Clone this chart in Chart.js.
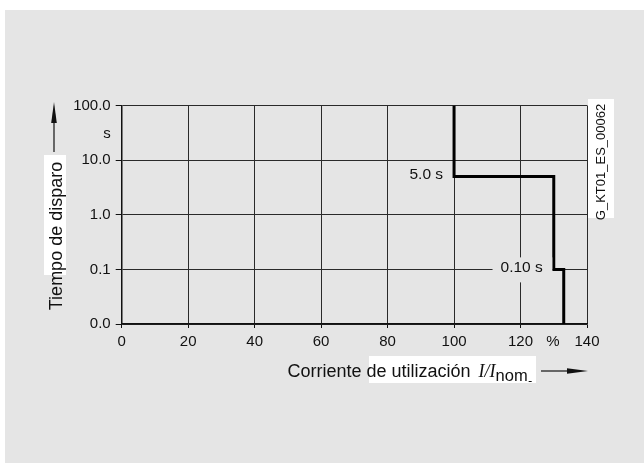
<!DOCTYPE html>
<html>
<head>
<meta charset="utf-8">
<script src="https://cdn.jsdelivr.net/npm/chart.js@4/dist/chart.umd.min.js"></script>
<style>
  html, body { margin: 0; padding: 0; background: #ffffff; }
  #wrap { width: 644px; height: 464px; position: relative; }
</style>
</head>
<body>
<div id="wrap"><canvas id="c" width="644" height="464"></canvas></div>
<script>
// Trip characteristic: current in % of nominal vs. trip time in seconds
const currentPct = [100, 100, 130, 130, 133, 133];
const tripTime   = [100, 5, 5, 0.1, 0.1, 0.01];

// Axis ticks
const xTickValues = [0, 20, 40, 60, 80, 100, 120, 140];
const yTickValues = [0.01, 0.1, 1, 10, 100];
const yTickLabels = ['0.0', '0.1', '1.0', '10.0', '100.0'];

// Texts
const yTitle = 'Tiempo de disparo';
const yUnit = 's';
const xTitleMain = 'Corriente de utilización';
const xTitleSym = 'I/I';
const xTitleSub = 'nom';
const xUnit = '%';
const docId = 'G_KT01_ES_00062';
const stepLabels = [
  { time: 5, atPct: 100, text: '5.0 s', box: false },
  { time: 0.1, atPct: 130, text: '0.10 s', box: true }
];

const SANS = '"Liberation Sans", Arial, Helvetica, sans-serif';
const SERIF = '"Liberation Serif", "Times New Roman", serif';
const BG = '#e5e5e5';
const INK = '#111111';

const backdrop = {
  id: 'backdrop',
  beforeDraw(chart) {
    const ctx = chart.ctx;
    ctx.save();
    ctx.fillStyle = '#ffffff';
    ctx.fillRect(0, 0, chart.width, chart.height);
    ctx.fillStyle = BG;
    ctx.fillRect(5, 10, chart.width - 5, 453);
    ctx.restore();
  }
};

const decorations = {
  id: 'decorations',
  afterDatasetsDraw(chart) {
    const ctx = chart.ctx;
    const xs = chart.scales.x, ys = chart.scales.y;
    ctx.save();

    // step value labels
    ctx.font = '15.5px ' + SANS;
    ctx.textAlign = 'right';
    ctx.textBaseline = 'middle';
    stepLabels.forEach(l => {
      const yp = ys.getPixelForValue(l.time);
      const xp = xs.getPixelForValue(l.atPct);
      const w = ctx.measureText(l.text).width;
      if (l.box) {
        ctx.fillStyle = BG;
        ctx.fillRect(xp - w - 19, yp - 12, w + 19 - 1.5, 25);
      }
      ctx.fillStyle = INK;
      ctx.fillText(l.text, xp - 11, yp - 1.5);
    });
    ctx.restore();
  },
  afterDraw(chart) {
    const ctx = chart.ctx;
    ctx.save();
    ctx.fillStyle = INK;
    ctx.strokeStyle = INK;

    // unit labels
    ctx.font = '15px ' + SANS;
    ctx.textAlign = 'center';
    ctx.textBaseline = 'middle';
    ctx.fillText(yUnit, 107, 134);
    ctx.fillText(xUnit, 553, 342);

    // y title with white backing and arrow
    ctx.fillStyle = '#ffffff';
    ctx.fillRect(44, 155, 22, 120);
    ctx.fillStyle = INK;
    ctx.save();
    ctx.translate(56, 236);
    ctx.rotate(-Math.PI / 2);
    ctx.font = '18px ' + SANS;
    ctx.textAlign = 'center';
    ctx.textBaseline = 'middle';
    ctx.fillText(yTitle, 0, 1);
    ctx.restore();
    ctx.lineWidth = 1.2;
    ctx.beginPath();
    ctx.moveTo(54, 152);
    ctx.lineTo(54, 118);
    ctx.stroke();
    ctx.beginPath();
    ctx.moveTo(54, 102);
    ctx.lineTo(56.8, 123);
    ctx.lineTo(51.2, 123);
    ctx.closePath();
    ctx.fill();

    // x title with white backing and arrow
    ctx.fillStyle = '#ffffff';
    ctx.fillRect(369, 356, 167, 27);
    ctx.fillStyle = INK;
    ctx.textAlign = 'left';
    ctx.textBaseline = 'alphabetic';
    let x = 287.5;
    const base = 377;
    ctx.font = '18px ' + SANS;
    ctx.fillText(xTitleMain, x, base);
    x += ctx.measureText(xTitleMain).width + 8;
    ctx.font = 'italic 18px ' + SERIF;
    ctx.fillText(xTitleSym, x, base);
    x += ctx.measureText(xTitleSym).width;
    ctx.font = '16.5px ' + SANS;
    ctx.fillText(xTitleSub, x, base + 4);
    x += ctx.measureText(xTitleSub).width;
    ctx.lineWidth = 1;
    ctx.beginPath();
    ctx.moveTo(x + 1, base + 4.5);
    ctx.lineTo(x + 4, base + 4.5);
    ctx.stroke();

    ctx.lineWidth = 1.2;
    ctx.beginPath();
    ctx.moveTo(541, 371);
    ctx.lineTo(572, 371);
    ctx.stroke();
    ctx.beginPath();
    ctx.moveTo(588, 371);
    ctx.lineTo(567, 368.2);
    ctx.lineTo(567, 373.8);
    ctx.closePath();
    ctx.fill();

    // drawing id
    ctx.fillStyle = '#ffffff';
    ctx.fillRect(588, 99, 26, 119);
    ctx.fillStyle = INK;
    ctx.save();
    ctx.translate(601.5, 162);
    ctx.rotate(-Math.PI / 2);
    ctx.font = '13px ' + SANS;
    ctx.textAlign = 'center';
    ctx.textBaseline = 'middle';
    ctx.fillText(docId, 0, 0);
    ctx.restore();

    ctx.restore();
  }
};

new Chart(document.getElementById('c'), {
  type: 'scatter',
  data: {
    datasets: [{
      data: currentPct.map((v, i) => ({ x: v, y: tripTime[i] })),
      showLine: true,
      borderColor: '#000000',
      borderWidth: 3,
      borderCapStyle: 'butt',
      borderJoinStyle: 'miter',
      pointRadius: 0,
      fill: false,
      tension: 0
    }]
  },
  options: {
    responsive: false,
    animation: false,
    devicePixelRatio: 1,
    layout: { padding: { left: 0, top: 105.5, right: 57, bottom: 100 } },
    plugins: {
      legend: { display: false },
      tooltip: { enabled: false },
      title: { display: false }
    },
    scales: {
      x: {
        type: 'linear',
        min: 0,
        max: 140,
        afterBuildTicks(scale) { scale.ticks = xTickValues.map(v => ({ value: v })); },
        afterFit(scale) { scale.height = 40; },
        grid: {
          color: '#2a2a2a',
          lineWidth: 1,
          tickLength: 4,
          tickColor: INK
        },
        border: { color: INK, width: 1.5 },
        ticks: {
          color: INK,
          font: { family: SANS, size: 15 },
          padding: 5,
          maxRotation: 0,
          autoSkip: false
        }
      },
      y: {
        type: 'logarithmic',
        min: 0.01,
        max: 100,
        afterBuildTicks(scale) { scale.ticks = yTickValues.map(v => ({ value: v })); },
        afterFit(scale) { scale.width = 121.7; },
        grid: {
          color: '#2a2a2a',
          lineWidth: 1,
          tickLength: 6,
          tickColor: INK
        },
        border: { color: INK, width: 1.5 },
        ticks: {
          color: INK,
          font: { family: SANS, size: 15 },
          padding: 5,
          autoSkip: false,
          callback(value) {
            const i = yTickValues.indexOf(value);
            return i >= 0 ? yTickLabels[i] : '';
          }
        }
      }
    }
  },
  plugins: [backdrop, decorations]
});
</script>
</body>
</html>
